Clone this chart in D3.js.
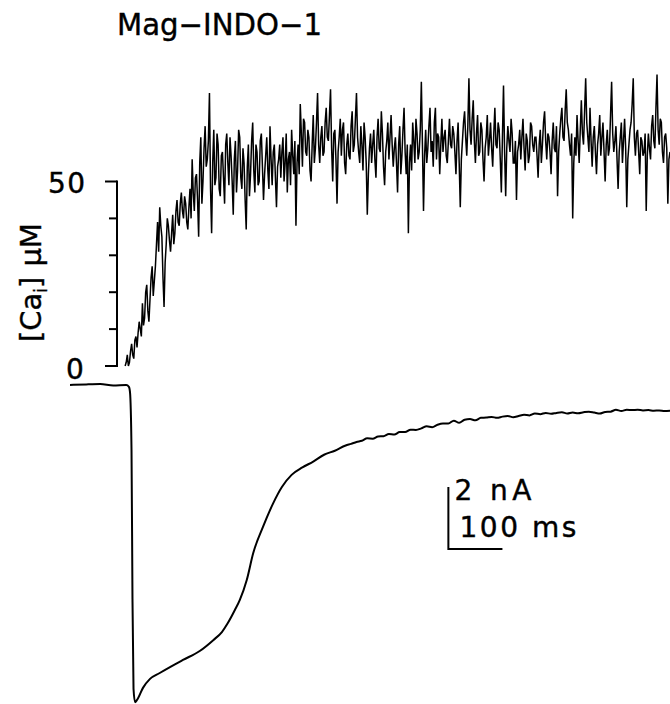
<!DOCTYPE html>
<html>
<head>
<meta charset="utf-8">
<script src="https://cdn.jsdelivr.net/npm/d3@7"></script>
<style>
  body { margin: 0; background: #fff; }
  text { font-family: "DejaVu Sans", "Liberation Sans", Arial, sans-serif; fill: #000; stroke: #000; stroke-width: 0.4px; }
</style>
</head>
<body>
<div id="chart"></div>
<script>
// Ca trace sampled every 2 ms starting at -8 ms (uM)
var caStart = -8, caStep = 2;
var caValues = [
  0, 1, 3, 0, 1, 4, 6, 3, 2, 7, 8, 5, 9, 12, 10, 8, 17, 11, 13, 20,
  22, 15, 12, 18, 24, 27, 19, 23, 27, 33, 39, 31, 43, 38, 35, 24, 16, 28, 33, 40,
  38, 34, 31, 36, 41, 33, 36, 42, 45, 39, 38, 44, 47, 42, 40, 46, 44, 39, 37, 43,
  48, 40, 56, 47, 42, 51, 52, 45, 35, 55, 62, 44, 50, 59, 65, 54, 56, 61, 74, 48,
  36, 55, 64, 49, 51, 63, 60, 48, 46, 57, 58, 51, 44, 60, 63, 55, 49, 62, 57, 50,
  41, 56, 61, 47, 53, 64, 62, 51, 48, 59, 55, 45, 37, 54, 60, 46, 52, 61, 66, 53,
  47, 60, 58, 49, 50, 61, 63, 54, 45, 52, 57, 62, 53, 48, 65, 56, 49, 58, 60, 51,
  43, 54, 56, 60, 51, 58, 62, 50, 55, 63, 47, 56, 58, 49, 64, 57, 52, 61, 38, 55,
  60, 52, 71, 63, 54, 67, 66, 58, 57, 64, 62, 53, 50, 60, 68, 55, 59, 66, 74, 60,
  55, 62, 65, 57, 58, 66, 70, 62, 61, 68, 75, 59, 50, 63, 64, 56, 44, 58, 62, 67,
  57, 64, 66, 55, 52, 60, 63, 57, 56, 65, 69, 58, 60, 67, 74, 62, 58, 55, 65, 60,
  53, 66, 62, 55, 41, 52, 59, 63, 55, 60, 64, 56, 51, 62, 67, 59, 58, 69, 63, 54,
  49, 58, 61, 66, 56, 62, 68, 60, 54, 59, 62, 55, 47, 60, 65, 52, 57, 64, 70, 58,
  52, 60, 36, 55, 60, 53, 66, 61, 55, 67, 63, 56, 58, 64, 77, 60, 42, 57, 64, 55,
  59, 65, 70, 58, 61, 54, 66, 70, 56, 63, 62, 52, 60, 67, 58, 62, 64, 57, 55, 61,
  67, 60, 59, 65, 63, 58, 52, 61, 66, 55, 43, 56, 61, 66, 69, 62, 57, 65, 78, 64,
  60, 67, 72, 61, 55, 63, 68, 57, 58, 66, 64, 56, 50, 59, 62, 68, 57, 61, 66, 59,
  54, 63, 70, 60, 59, 66, 64, 56, 47, 62, 76, 58, 46, 59, 65, 61, 58, 67, 63, 55,
  55, 61, 45, 58, 60, 64, 56, 62, 67, 59, 53, 63, 61, 55, 57, 66, 65, 60, 58, 62,
  62, 57, 51, 60, 64, 55, 60, 66, 69, 61, 56, 63, 62, 58, 52, 61, 66, 59, 58, 65,
  46, 58, 63, 67, 70, 62, 61, 69, 75, 66, 64, 60, 57, 63, 40, 55, 62, 57, 68, 61,
  55, 64, 72, 63, 60, 69, 78, 66, 62, 58, 70, 61, 54, 62, 65, 58, 52, 60, 63, 68,
  57, 62, 66, 58, 50, 60, 64, 57, 59, 68, 77, 63, 58, 61, 65, 56, 48, 58, 62, 66,
  55, 61, 67, 59, 43, 56, 60, 64, 66, 71, 78, 62, 57, 63, 64, 58, 52, 62, 61, 57,
  58, 63, 42, 57, 63, 59, 56, 65, 68, 61, 59, 70, 79, 64, 60, 67, 66, 58, 55, 62,
  63, 59, 44, 56, 58
];

// membrane current (ms, nA)
var iTimes = [-110, -80, -54, -30, -6, -1, 1, 3.8, 5.6, 7.5, 10.3, 14, 25, 38, 56, 75, 99, 130, 155, 171, 182, 195, 204, 217, 229, 247, 266, 282,
  300, 320, 340, 360, 380, 400, 410, 420, 430, 440, 450, 460, 470, 480, 490, 500, 510, 520, 530, 540, 550, 560, 570, 580, 590,
  600, 610, 620, 630, 640, 650, 660, 670, 680, 690, 700, 710, 720, 730, 740, 750, 760, 770, 780, 790,
  800, 810, 820, 830, 840, 850, 860, 870, 880, 890, 900, 910, 920, 930, 940, 950, 960, 970, 980, 990, 1000];
var iValues = [0, 0.02, 0.03, -0.02, 0, -0.06, -0.23, -2.1, -6.9, -9.8, -10.23, -10.16, -9.77, -9.48, -9.29, -9.1, -8.87, -8.58, -8.23, -7.97, -7.68, -7.26, -6.94, -6.29, -5.42, -4.58, -3.81, -3.29,
  -2.90, -2.66, -2.47, -2.25, -2.12, -1.95, -1.90, -1.84, -1.80, -1.72, -1.73, -1.66, -1.65, -1.58, -1.60, -1.52, -1.52, -1.44, -1.45, -1.40, -1.33, -1.36, -1.28, -1.24, -1.24,
  -1.15, -1.22, -1.12, -1.10, -1.14, -1.06, -1.05, -1.03, -1.06, -1.02, -1.00, -1.04, -1.00, -0.96, -0.98, -0.92, -0.94, -0.90, -0.93, -0.90,
  -0.88, -0.92, -0.89, -0.91, -0.88, -0.86, -0.89, -0.92, -0.87, -0.86, -0.80, -0.84, -0.80, -0.81, -0.80, -0.82, -0.81, -0.83, -0.82, -0.84, -0.83];

var caTicks = [0, 10, 20, 30, 40, 50];
var caTickLabels = ["0", "50"];

var width = 670, height = 704;

var x = d3.scaleLinear().domain([-110, 1000]).range([70, 670]);
var yCa = d3.scaleLinear().domain([0, 50]).range([366, 181.5]);
var yI = d3.scaleLinear().domain([0, -2]).range([385, 447]);

var svg = d3.select("#chart")
    .append("svg")
    .attr("width", width)
    .attr("height", height);

// title
svg.append("text")
    .attr("x", 117)
    .attr("y", 35)
    .attr("font-size", 30)
    .attr("textLength", 205)
    .attr("lengthAdjust", "spacingAndGlyphs")
    .text("Mag\u2212INDO\u22121");

// Ca axis
var axisX = 117;
svg.append("line")
    .attr("x1", axisX).attr("x2", axisX)
    .attr("y1", yCa(0) + 1).attr("y2", yCa(50) - 1)
    .attr("stroke", "#000").attr("stroke-width", 2);

svg.selectAll(".tick")
    .data(caTicks)
    .enter()
    .append("line")
    .attr("class", "tick")
    .attr("x1", d => (d == 0 || d == 50) ? axisX - 12 : axisX - 8)
    .attr("x2", axisX)
    .attr("y1", d => yCa(d))
    .attr("y2", d => yCa(d))
    .attr("stroke", "#000").attr("stroke-width", 2);

svg.append("text")
    .attr("x", 48).attr("y", yCa(50) + 11)
    .attr("font-size", 28)
    .attr("textLength", 37).attr("lengthAdjust", "spacing")
    .text(caTickLabels[1]);

svg.append("text")
    .attr("x", 66).attr("y", yCa(0) + 13)
    .attr("font-size", 28)
    .text(caTickLabels[0]);

// y label
var lab = svg.append("text")
    .attr("transform", "translate(41,342) rotate(-90)")
    .attr("font-size", 29);
lab.append("tspan").text("[Ca");
lab.append("tspan").attr("font-size", 17).attr("dy", 6).text("i");
lab.append("tspan").attr("dy", -6).text("]");
lab.append("tspan").attr("dx", 10).text("\u03bcM");

// Ca trace
var caLine = d3.line()
    .x((d, i) => x(caStart + i * caStep))
    .y(d => yCa(d));

svg.append("path")
    .datum(caValues)
    .attr("d", caLine)
    .attr("fill", "none")
    .attr("stroke", "#000")
    .attr("stroke-width", 1.5)
    .attr("stroke-linejoin", "miter")
    .attr("stroke-miterlimit", 2);

// current trace
var iLine = d3.line()
    .x((d, i) => x(iTimes[i]))
    .y(d => yI(d))
    .curve(d3.curveMonotoneX);

svg.append("path")
    .datum(iValues)
    .attr("d", iLine)
    .attr("fill", "none")
    .attr("stroke", "#000")
    .attr("stroke-width", 2);

// scale bar: 2 nA / 100 ms
var sbT = 590, sbI = -3.29;
svg.append("path")
    .attr("d", "M" + x(sbT) + "," + yI(sbI) + "V" + yI(sbI - 2) + "H" + x(sbT + 100))
    .attr("fill", "none")
    .attr("stroke", "#000")
    .attr("stroke-width", 2);

svg.append("text")
    .attr("x", x(sbT) + 6).attr("y", yI(sbI) + 13)
    .attr("font-size", 28)
    .attr("textLength", 77).attr("lengthAdjust", "spacing")
    .text("2 nA");

svg.append("text")
    .attr("x", x(sbT) + 11).attr("y", yI(sbI) + 50)
    .attr("font-size", 28)
    .attr("textLength", 117).attr("lengthAdjust", "spacing")
    .text("100 ms");
</script>
</body>
</html>
